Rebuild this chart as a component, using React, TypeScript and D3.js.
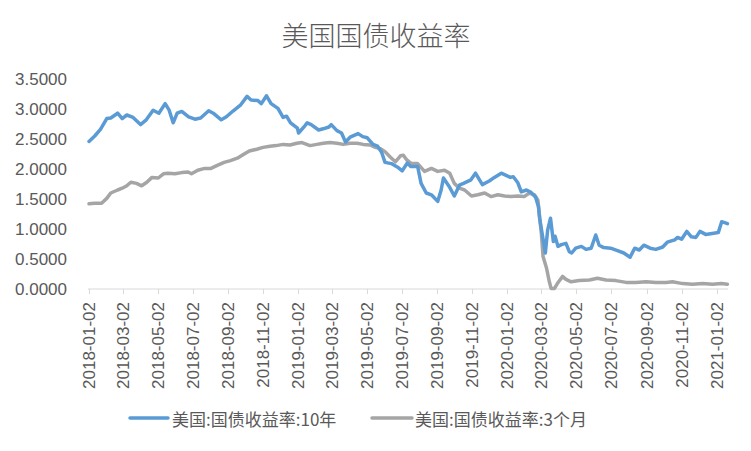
import React from "react";
import * as d3 from "d3";

const title = "美国国债收益率";
const seriesNames = ["美国:国债收益率:10年", "美国:国债收益率:3个月"];

const tenYearDates = [
  "2018-01-02","2018-01-12","2018-01-22","2018-02-02","2018-02-09","2018-02-21","2018-03-01","2018-03-09","2018-03-20","2018-04-02",
  "2018-04-12","2018-04-24","2018-05-04","2018-05-15","2018-05-22","2018-05-29","2018-06-05","2018-06-13","2018-06-25","2018-07-06",
  "2018-07-16","2018-07-30","2018-08-07","2018-08-21","2018-08-30","2018-09-11","2018-09-24","2018-10-05","2018-10-12","2018-10-24",
  "2018-10-30","2018-11-08","2018-11-16","2018-11-28","2018-12-07","2018-12-13","2018-12-20","2019-01-01","2019-01-03","2019-01-14",
  "2019-01-18","2019-01-25","2019-02-07","2019-02-15","2019-02-25","2019-03-01","2019-03-11","2019-03-19","2019-03-26","2019-04-03",
  "2019-04-17","2019-04-25","2019-05-03","2019-05-13","2019-05-21","2019-05-28","2019-06-03","2019-06-14","2019-06-25","2019-07-03",
  "2019-07-12","2019-07-18","2019-07-30","2019-08-05","2019-08-14","2019-08-23","2019-09-03","2019-09-09","2019-09-13","2019-09-23",
  "2019-10-02","2019-10-11","2019-10-18","2019-10-31","2019-11-08","2019-11-20","2019-12-02","2019-12-11","2019-12-23","2020-01-08",
  "2020-01-13","2020-01-21","2020-01-27","2020-02-05","2020-02-13","2020-02-21","2020-02-26","2020-02-28","2020-03-09","2020-03-13",
  "2020-03-18","2020-03-23","2020-03-26","2020-03-31","2020-04-06","2020-04-14","2020-04-20","2020-04-24","2020-05-01","2020-05-11",
  "2020-05-19","2020-05-28","2020-06-05","2020-06-11","2020-06-19","2020-07-01","2020-07-13","2020-07-24","2020-08-04","2020-08-12",
  "2020-08-20","2020-08-28","2020-09-08","2020-09-18","2020-09-30","2020-10-08","2020-10-21","2020-10-26","2020-11-02","2020-11-11",
  "2020-11-19","2020-11-27","2020-12-04","2020-12-14","2020-12-28","2021-01-05","2021-01-11","2021-01-15","2021-01-21"
];
const tenYearValues = [
  2.46,2.55,2.66,2.84,2.85,2.93,2.84,2.90,2.86,2.74,
  2.82,2.98,2.93,3.09,2.98,2.77,2.93,2.96,2.87,2.83,
  2.85,2.97,2.93,2.82,2.87,2.97,3.07,3.21,3.15,3.14,
  3.09,3.22,3.09,3.01,2.86,2.88,2.77,2.68,2.60,2.72,
  2.77,2.74,2.65,2.67,2.70,2.74,2.64,2.60,2.45,2.53,
  2.59,2.54,2.52,2.41,2.38,2.28,2.11,2.09,2.03,1.97,
  2.10,2.04,2.04,1.76,1.60,1.57,1.46,1.65,1.85,1.71,
  1.55,1.73,1.76,1.82,1.93,1.74,1.80,1.86,1.93,1.86,
  1.87,1.77,1.62,1.65,1.61,1.53,1.37,1.18,0.60,0.98,
  1.18,0.79,0.88,0.71,0.74,0.76,0.62,0.60,0.68,0.71,
  0.66,0.68,0.90,0.73,0.69,0.68,0.64,0.60,0.53,0.68,
  0.65,0.73,0.68,0.66,0.70,0.78,0.82,0.86,0.83,0.96,
  0.87,0.86,0.96,0.91,0.93,0.94,1.12,1.11,1.09
];

const threeMonthDates = [
  "2018-01-02","2018-01-12","2018-01-24","2018-02-02","2018-02-09","2018-02-21","2018-03-01","2018-03-09","2018-03-16","2018-03-26",
  "2018-04-04","2018-04-13","2018-04-22","2018-05-03","2018-05-12","2018-05-20","2018-06-01","2018-06-13","2018-06-24","2018-06-30",
  "2018-07-11","2018-07-23","2018-08-03","2018-08-14","2018-08-26","2018-09-06","2018-09-18","2018-09-30","2018-10-09","2018-10-22",
  "2018-11-02","2018-11-14","2018-11-25","2018-12-07","2018-12-19","2018-12-31","2019-01-09","2019-01-23","2019-02-04","2019-02-15",
  "2019-02-27","2019-03-11","2019-03-22","2019-04-03","2019-04-15","2019-04-26","2019-05-08","2019-05-17","2019-05-26","2019-06-03",
  "2019-06-12","2019-06-21","2019-06-30","2019-07-05","2019-07-11","2019-07-19","2019-07-30","2019-08-11","2019-08-23","2019-09-03",
  "2019-09-15","2019-09-24","2019-10-02","2019-10-11","2019-10-20","2019-11-01","2019-11-12","2019-11-24","2019-12-05","2019-12-17",
  "2019-12-29","2020-01-09","2020-01-21","2020-02-01","2020-02-10","2020-02-19","2020-02-25","2020-02-28","2020-03-02","2020-03-05",
  "2020-03-11","2020-03-16","2020-03-19","2020-03-25","2020-03-30","2020-04-08","2020-04-14","2020-04-23","2020-05-07","2020-05-25",
  "2020-06-08","2020-06-23","2020-07-10","2020-07-28","2020-08-14","2020-09-01","2020-09-18","2020-10-06","2020-10-17","2020-11-04",
  "2020-11-21","2020-12-09","2020-12-26","2021-01-10","2021-01-21"
];
const threeMonthValues = [
  1.42,1.43,1.43,1.51,1.60,1.65,1.68,1.72,1.78,1.76,
  1.72,1.78,1.86,1.85,1.92,1.93,1.92,1.94,1.95,1.92,
  1.98,2.01,2.01,2.06,2.11,2.14,2.18,2.25,2.30,2.33,
  2.36,2.38,2.39,2.41,2.40,2.43,2.44,2.39,2.41,2.43,
  2.44,2.43,2.41,2.43,2.43,2.41,2.40,2.36,2.34,2.29,
  2.20,2.12,2.22,2.23,2.15,2.09,2.09,1.96,2.01,1.96,
  1.98,1.93,1.76,1.68,1.65,1.55,1.57,1.60,1.54,1.57,
  1.55,1.54,1.55,1.54,1.60,1.57,1.48,1.20,0.93,0.54,
  0.35,0.12,0.01,0.01,0.09,0.21,0.16,0.12,0.14,0.15,
  0.18,0.15,0.14,0.11,0.11,0.12,0.11,0.11,0.12,0.09,
  0.08,0.09,0.08,0.09,0.08
];

const xTickLabels = [
  "2018-01-02","2018-03-02","2018-05-02","2018-07-02","2018-09-02","2018-11-02","2019-01-02","2019-03-02","2019-05-02",
  "2019-07-02","2019-09-02","2019-11-02","2020-01-02","2020-03-02","2020-05-02","2020-07-02","2020-09-02","2020-11-02","2021-01-02"
];
const yTicks = [0, 0.5, 1.0, 1.5, 2.0, 2.5, 3.0, 3.5];
const xDomain = ["2018-01-02", "2021-01-22"];

const colors = ["#5B9BD5", "#A5A5A5"];
const textColor = "#595959";

export default function App() {
  const parse = d3.timeParse("%Y-%m-%d");
  const x = d3.scaleTime().domain(xDomain.map((s) => parse(s) as Date)).range([89, 728]);
  const y = d3.scaleLinear().domain([0, 3.5]).range([289, 79]);

  const line = d3
    .line<[Date, number]>()
    .x((d) => x(d[0]))
    .y((d) => y(d[1]));

  const tenData: [Date, number][] = tenYearDates.map((s, i) => [parse(s) as Date, tenYearValues[i]]);
  const threeData: [Date, number][] = threeMonthDates.map((s, i) => [parse(s) as Date, threeMonthValues[i]]);

  const latin = "'Liberation Sans', Arial, sans-serif";
  const cjk = "'Noto Sans CJK SC', 'Liberation Sans', sans-serif";

  const legendItems = [
    { name: seriesNames[0], color: colors[0], x0: 130, x1: 168, tx: 172 },
    { name: seriesNames[1], color: colors[1], x0: 372, x1: 412, tx: 415 },
  ];

  return (
    <svg width={751} height={451} style={{ position: "absolute", left: 0, top: 0, background: "#fff" }}>
      <rect x={0} y={0} width={751} height={451} fill="#fff" />
      <text x={376} y={34} textAnchor="middle" dominantBaseline="central" fontFamily={cjk} fontSize={27} fontWeight={300} fill={textColor}>
        {title}
      </text>

      {yTicks.map((t) => (
        <text key={t} x={67} y={y(t)} textAnchor="end" dominantBaseline="central" fontFamily={latin} fontSize={17} fill={textColor}>
          {t.toFixed(4)}
        </text>
      ))}

      <line x1={88} x2={728} y1={y(0)} y2={y(0)} stroke="#D9D9D9" strokeWidth={1} />
      {xTickLabels.map((s) => {
        const px = Math.round(x(parse(s) as Date)) + 0.5;
        return (
          <g key={s}>
            <line x1={px} x2={px} y1={y(0)} y2={y(0) + 5} stroke="#D9D9D9" strokeWidth={1} />
            <text
              transform={`translate(${px},${y(0) + 13}) rotate(-90)`}
              textAnchor="end"
              dominantBaseline="central"
              fontFamily={latin}
              fontSize={17}
              fill={textColor}
            >
              {s}
            </text>
          </g>
        );
      })}

      <path d={line(threeData) || ""} fill="none" stroke={colors[1]} strokeWidth={3.5} strokeLinejoin="round" strokeLinecap="round" />
      <path d={line(tenData) || ""} fill="none" stroke={colors[0]} strokeWidth={3.5} strokeLinejoin="round" strokeLinecap="round" />

      {legendItems.map((it) => (
        <g key={it.name}>
          <line x1={it.x0} x2={it.x1} y1={418} y2={418} stroke={it.color} strokeWidth={3.5} strokeLinecap="round" />
          <text x={it.tx} y={418} dominantBaseline="central" fontFamily={cjk} fontSize={17} fill={textColor}>
            {it.name}
          </text>
        </g>
      ))}
    </svg>
  );
}
